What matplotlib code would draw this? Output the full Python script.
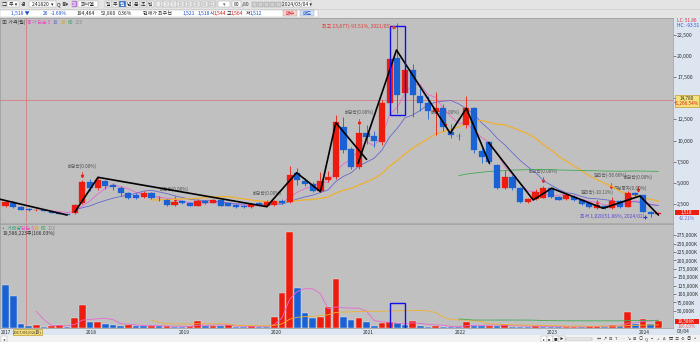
import matplotlib
matplotlib.use("Agg")
import matplotlib.pyplot as plt
import matplotlib.transforms as mtransforms
from matplotlib.patches import Rectangle
import numpy as np
import pandas as pd

plt.rcParams['font.family'] = ['Noto Sans CJK KR', 'DejaVu Sans']

# ---------------- data (monthly candles, 2017-02 .. 2024-03) ----------------
opens = [2250, 2620, 2200, 2000, 1780, 1830, 1640, 1500, 1340, 1450, 2620, 5090, 4400, 5280,
         4770, 4450, 3780, 3600, 3400, 3850, 3200, 3000, 2450, 2920, 2680, 2300, 2920, 2700,
         2950, 2600, 2400, 2300, 2150, 2700, 2350, 2400, 2900, 2800, 6150, 5280, 4890, 4110,
         5370, 5750, 11650, 8980, 6950, 10940, 10550, 9900, 14400, 19700, 15600, 18300, 15270,
         14480, 13420, 13800, 11060, 10600, 11900, 13800, 8820, 9880, 7130, 4400, 5680, 4380,
         2810, 3090, 3300, 4380, 3390, 3090, 3390, 3050, 2600, 2030, 2300, 2030, 2830, 2220,
         3790, 3550, 1630, 1320]
highs = [2950, 2850, 2300, 2100, 1900, 1880, 1700, 1560, 1400, 2550, 5350, 5500, 5750, 5400,
         5000, 4700, 3950, 3800, 4050, 4000, 3450, 3100, 3000, 3050, 2750, 3150, 3000, 3150,
         3000, 2700, 2500, 2400, 2650, 2800, 2900, 3000, 3100, 7000, 6800, 5600, 5100, 6300,
         6400, 13000, 12800, 9300, 11900, 11800, 11200, 14800, 20500, 23877, 19500, 19000, 16200,
         15300, 15770, 14300, 12000, 10900, 15270, 14000, 9100, 10000, 7300, 6540, 5900, 4500,
         3300, 4300, 4700, 4500, 3500, 3800, 3600, 3150, 2700, 2800, 2450, 3400, 2950, 4100,
         3900, 3650, 1700, 1620]
lows = [2150, 2100, 1800, 1720, 1740, 1700, 1420, 1300, 1180, 1400, 2500, 4100, 4200, 4300,
        4200, 3500, 3100, 3150, 3300, 3100, 2900, 2350, 2350, 2550, 2250, 2250, 2550, 2600,
        2250, 2250, 2050, 2100, 2100, 2350, 2200, 2300, 2550, 2600, 4800, 4600, 3950, 3980,
        5100, 5500, 8500, 6700, 6700, 9600, 9200, 9500, 13800, 13300, 14500, 12800, 13500,
        12500, 10670, 11200, 10300, 10100, 11500, 8600, 7330, 7300, 4300, 4300, 4200, 2700,
        2700, 2950, 3200, 3300, 2950, 3000, 2850, 2450, 2100, 1980, 1950, 1950, 2100, 2150,
        3400, 1550, 1020, 1280]
closes = [2800, 2150, 1850, 1780, 1830, 1760, 1460, 1330, 1230, 2420, 5090, 4400, 5360, 4660,
          4500, 3800, 3250, 3280, 3860, 3220, 3240, 2450, 2800, 2620, 2300, 2920, 2650, 3000,
          2320, 2350, 2150, 2150, 2530, 2420, 2750, 2850, 2700, 5950, 5380, 4900, 4110, 5280,
          5750, 12200, 8900, 6950, 10850, 10400, 10000, 14400, 19600, 15400, 18300, 15400, 14480,
          13550, 13820, 11650, 10700, 10500, 13820, 8900, 8050, 7520, 4400, 5680, 4400, 2810,
          3080, 3980, 4380, 3400, 3010, 3590, 2950, 2540, 2150, 2410, 2030, 2920, 2200, 3790,
          3550, 1640, 1320, 1518]
volumes_k = [127000, 94300, 10100, 5000, 8000, 3000, 6000, 8000, 3000, 28000, 67500, 16000,
             18000, 11000, 8000, 6000, 9000, 6000, 4500, 5500, 4000, 5000, 3500, 3000, 4000,
             20000, 5500, 6000, 4000, 7000, 2500, 2000, 6000, 3500, 2500, 32700, 102000, 285700,
             117000, 44600, 28000, 31000, 60700, 144000, 32700, 22900, 29800, 16000, 5000, 13000,
             18000, 13000, 8000, 21000, 4500, 3000, 4500, 3000, 2500, 2500, 18000, 5500, 5000,
             6500, 5000, 10000, 3000, 3000, 2000, 6000, 3000, 2500, 2000, 3000, 3500, 2000, 4500,
             6000, 3000, 8000, 5000, 45800, 10000, 26000, 11800, 19586]
year_labels = ["2017", "2018", "2019", "2020", "2021", "2022", "2023", "2024"]
price_ticks = [2500, 5000, 7500, 10000, 12500, 15000, 17500, 20000, 22500]
price_tick_labels = ["2,500", "5,000", "7,500", "10,000", "12,500", "", "17,500", "20,000", "22,500"]
vol_ticks = [50000, 75000, 100000, 125000, 150000, 175000, 200000, 225000, 250000, 275000]
ma_price = [5, 10, 20, 60, 120]
ma_vol = [5, 20, 60]

# trend (zig-zag) drawings: (month index, price)
zig_a = [(-0.7, 3090), (8.0, 1240)]
zig_b = [(9.05, 1630), (12.04, 5680), (34.0, 2220), (37.9, 6220), (41.0, 3990), (43.0, 12120), (47.0, 7800)]
zig_c = [(45.9, 7330), (50.9, 20690), (57.9, 10870), (60.0, 13820), (63.0, 7330)]
zig_d = [(62.9, 9760), (68.7, 3010), (71.1, 4390), (77.8, 2030), (82.6, 3480), (85.0, 1240)]

# event labels: (month index, price of text, price of arrow top, text)
events = [(10, 6930, 6300, "배당락(0.00%)"),
          (22, 4270, 3500, "배당락(0.00%)"),
          (34, 3780, 3050, "배당락(0.00%)"),
          (46, 13400, 12550, "배당락(0.00%)"),
          (57.2, 13300, 12300, "배당락(0.00%)"),
          (70, 6400, 5700, "배당락(0.00%)"),
          (78.8, 5950, 5000, "권리락(-56.66%)"),
          (82.3, 5650, 4650, "배당락(0.00%)"),
          (77.0, 3950, 3050, "권리락(-10.11%)"),
          (81.3, 4400, 3700, "무상증자(0.00%)")]

RED = '#ee1c0e'
BLUE = '#1a62d4'
MA_COL = {5: '#e868d0', 10: '#6868d0', 20: '#f0b030', 60: '#44aa55', 120: '#909090'}

n = len(closes)
idx = np.arange(n)
df = pd.DataFrame({'o': opens, 'h': highs, 'l': lows, 'c': closes, 'v': volumes_k})

W, H = 700, 342
fig = plt.figure(figsize=(W / 100, H / 100), dpi=100)
fig.patch.set_facecolor('#d6d6d6')


def px_axes(x, y, w, h):
    return fig.add_axes([x / W, 1 - (y + h) / H, w / W, h / H])


def frect(x, y, w, h, fc, ec='none', lw=0.4, z=-5):
    fig.add_artist(Rectangle((x / W, 1 - (y + h) / H), w / W, h / H, transform=fig.transFigure,
                             facecolor=fc, edgecolor=ec, linewidth=lw, zorder=z))


def ftext(x, y, s, size=3.8, color='#202020', ha='left', va='center', z=8):
    fig.text(x / W, 1 - y / H, s, fontsize=size, color=color, ha=ha, va=va, zorder=z)


# background strips
frect(673, 17.5, 27, 311, '#dce5f0')
frect(0, 328.5, 700, 6.5, '#dce5f0')
frect(0, 335, 700, 7, '#f2f2f2')

XL = (-0.72, 86.9)

# ---------------- price panel ----------------
axp = px_axes(0, 18, 673, 205)
axp.set_facecolor('#c0c0c0')
axp.set_xlim(*XL)
axp.set_ylim(295, 24464)
for s in axp.spines.values():
    s.set_color('#9a9a9a')
    s.set_linewidth(0.5)
axp.set_xticks([])
axp.yaxis.tick_right()
axp.set_yticks(price_ticks)
axp.set_yticklabels(price_tick_labels)
axp.tick_params(axis='y', labelsize=3.7, length=2, width=0.4, pad=1, colors='#303030')

for p in ma_price:
    ma = df['c'].rolling(p).mean()
    axp.plot(idx, ma, color=MA_COL[p], lw=0.9 if p == 20 else 0.6, zorder=2)

for k, pt, pa, txt in events:
    axp.text(k, pt, txt, fontsize=3.3, color='#505050', ha='center', va='center', zorder=1)
    axp.plot([k, k], [pa, pa - 450], color=RED, lw=0.5, zorder=1)
    axp.plot([k], [pa - 450], marker='v', ms=1.6, color=RED, mec=RED, zorder=1)

for i in range(n):
    o, h, l, c = opens[i], highs[i], lows[i], closes[i]
    col = RED if c >= o else BLUE
    axp.vlines(i, l, h, color=col, lw=0.6, zorder=3)
    axp.bar(i, max(abs(c - o), 70), bottom=min(o, c), width=0.8, color=col, edgecolor=col,
            linewidth=0.2, zorder=4)

for z in (zig_a, zig_b, zig_c, zig_d):
    xs, ys = zip(*z)
    axp.plot(xs, ys, color='black', lw=1.2, zorder=5, solid_capstyle='round')

axp.add_patch(Rectangle((50.0, 13030), 1.95, 23520 - 13030, fill=False, edgecolor='#1010e8',
                        lw=1.0, zorder=6))

axp.axhline(14796, color='#d87070', lw=0.5, zorder=1)
axp.axvline(2.73, color='#d87070', lw=0.5, zorder=1)

axp.text(41.2, 23440, "최고 23,877(-93.51%, 2021/05)", fontsize=3.6, color='#e03a3a', ha='left',
         va='center', zorder=7)
axp.plot([50.6], [23440], marker='>', ms=1.8, color='#e03a3a', zorder=7)
axp.text(74.8, 1050, "최저 1,020(51.86%, 2024/02)", fontsize=3.6, color='#5a4ad0', ha='left',
         va='center', zorder=7)
axp.plot([83.3], [1050], marker='+', ms=3, mew=0.8, color='#2040d0', zorder=7)

ftext(2, 22.5, "▣ 가격(월)", size=3.6, color='#404040')
ftext(27, 22.5, "종가 단순 5", size=3.6, color='#e050c0')
ftext(53, 22.5, "10", size=3.6, color='#6060d0')
ftext(61, 22.5, "20", size=3.6, color='#e0a020')
ftext(68, 22.5, "60", size=3.6, color='#30a050')
ftext(75, 22.5, "120", size=3.6, color='#909090')
ftext(677, 21, "LC: 51.86", size=3.4, color='#e03030')
ftext(677, 25.5, "HC: -93.51", size=3.4, color='#3050d0')

frect(674.5, 95.5, 24, 11, '#f6e07a', ec='#b08a10', lw=0.4, z=5)
ftext(686.5, 98.5, "14,780", size=3.4, color='#303030', ha='center')
ftext(686.5, 103.5, "+1,266.54%", size=3.4, color='#d02020', ha='center')
frect(674.5, 209.5, 24.5, 5.5, '#ee1c0e', z=5)
ftext(686.5, 212.2, "1,518", size=3.4, color='white', ha='center')
ftext(686.5, 218, "42.21%", size=3.4, color='#7070d0', ha='center')

# ---------------- volume panel ----------------
axv = px_axes(0, 224, 673, 104)
axv.set_facecolor('#c0c0c0')
axv.set_xlim(*XL)
axv.set_ylim(-893, 308600)
for s in axv.spines.values():
    s.set_color('#9a9a9a')
    s.set_linewidth(0.5)
axv.set_xticks([])
axv.yaxis.tick_right()
axv.set_yticks(vol_ticks)
axv.set_yticklabels([f"{v:,}K" for v in vol_ticks])
axv.tick_params(axis='y', labelsize=3.5, length=2, width=0.4, pad=1, colors='#303030')

vcols = [BLUE] + [RED if volumes_k[i] > volumes_k[i - 1] else BLUE for i in range(1, n)]
axv.bar(idx, volumes_k, width=0.86, color=vcols, edgecolor='#e8e8e8', linewidth=0.3, zorder=3)
vma_col = {5: '#e868d0', 20: '#f0b030', 60: '#44aa55'}
for p in ma_vol:
    axv.plot(idx, df['v'].rolling(p).mean(), color=vma_col[p], lw=0.6, zorder=4)
axv.add_patch(Rectangle((50.0, -3000), 1.95, 74400 + 3000, fill=False, edgecolor='#1010e8',
                        lw=1.0, zorder=6))
axv.axvline(2.73, color='#d87070', lw=0.5, zorder=2)

ftext(1, 228, "▪ 거래량", size=3.6, color='#40a080')
ftext(21, 228, "단순 5", size=3.6, color='#e050c0')
ftext(34, 228, "20", size=3.6, color='#e0a020')
ftext(41, 228, "60", size=3.6, color='#30a050')
ftext(48, 228, "120", size=3.6, color='#909090')
ftext(3, 233, "19,586,223주(166.03%)", size=3.6, color='#303030')

frect(674.5, 318.5, 24.5, 5.5, '#ee1c0e', z=5)
ftext(686.5, 321.2, "19,586K", size=3.3, color='white', ha='center')
ftext(686.5, 326.3, "166.03%", size=3.3, color='#e06060', ha='center')

tr = mtransforms.blended_transform_factory(axv.transData, fig.transFigure)
for j, lab in enumerate(year_labels):
    if j == 0:
        ftext(1, 332, lab, size=3.3, color='#303030')
    else:
        axv.text(11 + 12 * (j - 1) - 0.5, 1 - 332 / H, lab, transform=tr, fontsize=3.5,
                 color='#303030', ha='left', va='center', clip_on=False)
ftext(677, 332, "03/04", size=3.5, color='#303030')
frect(13, 329.2, 29, 5.6, '#f6e07a', ec='#b08a10', lw=0.4, z=5)
ftext(27.5, 332, "2017/05/02(화)", size=3.0, color='#303030', ha='center')

# ---------------- top toolbar ----------------
frect(0, 0, 700, 9, '#e4e4e4')
frect(0, 9.5, 700, 8, '#e4e4e4')


def box(x, y, w, h, s, fc='white', col='#202020', ec='#a0a0a0', size=3.6):
    frect(x, y, w, h, fc, ec=ec, lw=0.3, z=1)
    ftext(x + w / 2, y + h / 2, s, size=size, color=col, ha='center')


box(1, 1.5, 5, 5.5, "□", fc='#e8e8e8')
box(7, 1.5, 12, 5.5, "주 ▾")
ftext(21, 4.3, "경", size=3.6)
box(29, 1.5, 27, 5.5, "241820  ▾")
ftext(57, 4.3, "Q", size=3.6)
ftext(62, 4.3, "용▾", size=3.6)
box(72, 1.5, 5, 5.5, "피", fc='#c070e0', col='white')
box(78, 1.5, 20, 5.5, "피씨엘", col='#202020')
for xx, t in zip([106, 113, 120, 127, 134, 141, 148], ["일", "주", "월", "년", "분", "초", "틱"]):
    if t == "월":
        box(xx - 1, 1.5, 6.5, 5.5, t, fc='#3a70d0', col='white')
    else:
        box(xx - 1, 1.5, 6.5, 5.5, t, fc='#f4f4f4')
for xx, t in zip([156, 163, 170, 177, 185, 193, 201, 209],
                 ["1", "3", "5", "10", "15", "30", "60", "120"]):
    box(xx, 1.5, 7, 5.5, t, fc='#ececec', col='#b0b0b0')
box(218, 1.5, 12, 5.5, "▾", fc='white', col='#606060')
box(232, 1.5, 9, 5.5, "80")
ftext(242, 4.3, "/80", size=3.6, color='#404040')
for xx in [252, 258, 264, 270, 276]:
    box(xx, 1.8, 5, 5, "", fc='#d0d0d0', ec='#909090')
box(283, 1.5, 28, 5.5, "2024/03/04 ▾")

frect(0, 9.5, 318, 7.5, 'white', ec='#b0b0b0', lw=0.3, z=0)
ftext(11, 13.2, "1,518 ▼", size=3.6, color='#1a50d0')
ftext(43, 13.2, "26", size=3.6, color='#1a50d0')
ftext(51, 13.2, "-1.69%", size=3.6, color='#1a50d0')
ftext(77, 13.2, "194,464", size=3.6)
ftext(101, 13.2, "52,880", size=3.6, color='#303030')
ftext(118, 13.2, "0.36%", size=3.6, color='#303030')
ftext(143, 13.2, "현재가 최우선", size=3.6, color='#303030')
ftext(183, 13.2, "1,521", size=3.6, color='#1a50d0')
ftext(198, 13.2, "1,518", size=3.6, color='#1a50d0')
ftext(210, 13.2, "시", size=3.6)
ftext(214, 13.2, "1,544", size=3.6, color='#d02020')
ftext(227, 13.2, "고", size=3.6)
ftext(231, 13.2, "1,564", size=3.6, color='#d02020')
ftext(246, 13.2, "저", size=3.6)
ftext(250, 13.2, "1,512", size=3.6, color='#1a50d0')
box(283, 10.3, 14, 6, "매수", fc='#f8d0d0', col='#d02020')
box(300, 10.3, 14, 6, "매도", fc='#d0e0f8', col='#2050c0')

# ---------------- bottom toolbar ----------------
box(1, 336, 6, 5.5, "◂", fc='white', col='#404040', size=3.2)
for xx, t in zip([541, 547, 553, 559], ["▸", "▸▸", "■", "▶"]):
    box(xx, 336, 5.5, 5.5, t, fc='white', col='#303030', size=2.6)
frect(566, 337.8, 26, 1.8, '#ffffff', ec='#808080', lw=0.3, z=1)
for xx, t in zip(range(596, 700, 6), ["↔", "↗", "⊟", "T", "⋯", "↘", "⊞", "○", "Q", "−", "+", "A",
                                      "▤", "≡", "⚙", "◎", "▫"]):
    ftext(xx + 2.5, 339, t, size=3.0, color='#404040', ha='center')

fig.savefig("out.png", dpi=100, facecolor=fig.get_facecolor())
